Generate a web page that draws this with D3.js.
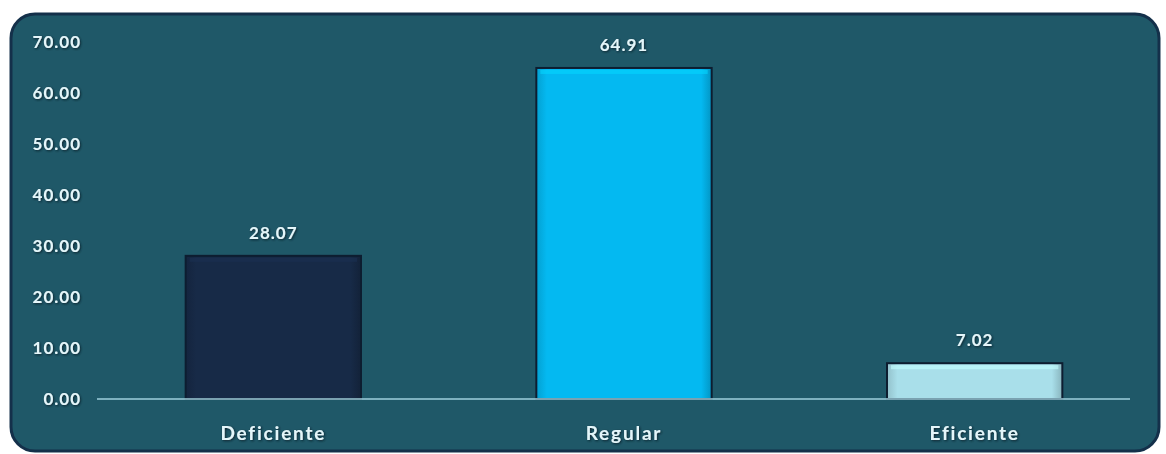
<!DOCTYPE html>
<html>
<head>
<meta charset="utf-8">
<script src="https://cdn.jsdelivr.net/npm/d3@7"></script>
<style>
  body { margin: 0; background: #fff; }
  text { font-family: "Lato", "Open Sans", sans-serif; font-weight: bold; }
</style>
</head>
<body>
<svg width="1166" height="454"></svg>
<script>
var categories = ["Deficiente", "Regular", "Eficiente"];
var values = [28.07, 64.91, 7.02];
var barColors = ["#172a47", "#04b9f1", "#a9dfea"];
var yTicks = [0, 10, 20, 30, 40, 50, 60, 70];

var svg = d3.select("svg");

// panel
svg.append("rect")
  .attr("x", 11).attr("y", 14)
  .attr("width", 1148).attr("height", 437)
  .attr("rx", 24).attr("ry", 24)
  .attr("fill", "#1f5868")
  .attr("stroke", "#14304a")
  .attr("stroke-width", 3);

var x = d3.scaleBand().domain(categories).range([98, 1150]).paddingInner(0.5).paddingOuter(0.25);
var y = d3.scaleLinear().domain([0, 70]).range([399, 42]);

var defs = svg.append("defs");
var shadow = defs.append("filter").attr("id", "ts").attr("x", "-20%").attr("y", "-20%").attr("width", "140%").attr("height", "140%");
shadow.append("feDropShadow").attr("dx", 1).attr("dy", 1).attr("stdDeviation", 0.8).attr("flood-color", "#0b1f2a").attr("flood-opacity", 0.9);

barColors.forEach(function(c, i) {
  var g = defs.append("linearGradient").attr("id", "bg" + i).attr("x1", 0).attr("x2", 1).attr("y1", 0).attr("y2", 0);
  g.append("stop").attr("offset", "0%").attr("stop-color", d3.color(c).darker(0.4));
  g.append("stop").attr("offset", "6%").attr("stop-color", c);
  g.append("stop").attr("offset", "94%").attr("stop-color", c);
  g.append("stop").attr("offset", "100%").attr("stop-color", d3.color(c).darker(0.6));
});

// y axis labels
svg.append("g").selectAll("text")
  .data(yTicks).enter().append("text")
  .attr("x", 81)
  .attr("y", function(d) { return y(d); })
  .attr("dy", "0.35em")
  .attr("text-anchor", "end")
  .attr("font-size", 17)
  .attr("letter-spacing", 1)
  .attr("fill", "#e4f6fa")
  .attr("filter", "url(#ts)")
  .text(function(d) { return d3.format(".2f")(d); });

// bars
var bars = svg.append("g").selectAll("g")
  .data(values).enter().append("g");

bars.append("rect")
  .attr("x", function(d, i) { return x(categories[i]); })
  .attr("y", function(d) { return y(d); })
  .attr("width", x.bandwidth())
  .attr("height", function(d) { return y(0) - y(d); })
  .attr("fill", function(d, i) { return "url(#bg" + i + ")"; })
  .attr("stroke", "#0d1d30")
  .attr("stroke-width", 2);

// top bevel highlight
bars.append("rect")
  .attr("x", function(d, i) { return x(categories[i]) + 4; })
  .attr("y", function(d) { return y(d) + 2; })
  .attr("width", x.bandwidth() - 8)
  .attr("height", 4)
  .attr("fill", function(d, i) { return d3.color(barColors[i]).brighter(0.4); })
  .attr("opacity", 0.6);

// value labels
bars.append("text")
  .attr("x", function(d, i) { return x(categories[i]) + x.bandwidth() / 2; })
  .attr("y", function(d) { return y(d) - 17; })
  .attr("text-anchor", "middle")
  .attr("font-size", 17)
  .attr("letter-spacing", 1)
  .attr("fill", "#e4f6fa")
  .attr("filter", "url(#ts)")
  .text(function(d) { return d3.format(".2f")(d); });

// baseline
svg.append("line")
  .attr("x1", 97).attr("x2", 1130)
  .attr("y1", y(0)).attr("y2", y(0))
  .attr("stroke", "#9fcfdc")
  .attr("stroke-width", 1.5);

// category labels
svg.append("g").selectAll("text")
  .data(categories).enter().append("text")
  .attr("x", function(d) { return x(d) + x.bandwidth() / 2; })
  .attr("y", 433)
  .attr("dy", "0.35em")
  .attr("text-anchor", "middle")
  .attr("font-size", 19)
  .attr("letter-spacing", 1.8)
  .attr("fill", "#e4f6fa")
  .attr("filter", "url(#ts)")
  .text(function(d) { return d; });
</script>
</body>
</html>
